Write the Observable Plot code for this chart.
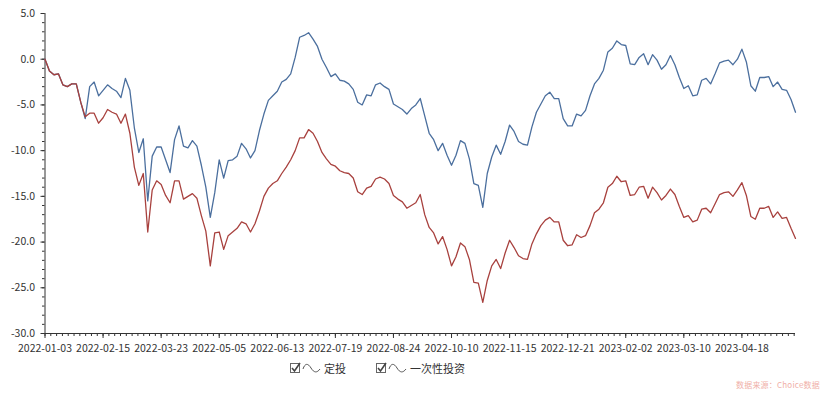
<!DOCTYPE html>
<html><head><meta charset="utf-8">
<script src="https://cdn.jsdelivr.net/npm/d3@7"></script>
<script src="https://cdn.jsdelivr.net/npm/@observablehq/plot@0.6"></script>
<style>
body{margin:0;background:#fff;font-family:"Noto Sans CJK SC","Microsoft YaHei",sans-serif;}
#wrap{position:relative;width:830px;height:395px;overflow:hidden;}
#legend{position:absolute;top:359px;left:0;width:830px;height:18px;font-size:11px;color:#333;}
.item{position:absolute;top:0;display:flex;align-items:center;height:18px;}
.item svg{display:block}
#src{position:absolute;left:736px;top:379px;font-size:8px;color:#f0b0a8;letter-spacing:0.2px;}
</style></head><body>
<div id="wrap"><div id="chart"></div>
<div id="legend"></div>
<div id="src">数据来源：Choice数据</div>
</div>
<script>
const seriesNames = ["定投", "一次性投资"];
const seriesColors = ["#4b6f9e", "#a8413e"];
const step = 2; // trading days between samples
const dingtou = [
0, -1.3, -1.7, -1.6, -2.8, -3.0, -2.7, -2.7, -4.7, -6.5,
-3.0, -2.5, -4.0, -3.4, -2.8, -3.2, -3.5, -4.2, -2.1, -3.4,
-7.5, -10.2, -8.7, -15.5, -10.6, -9.6, -9.6, -11.0, -12.4, -8.8,
-7.3, -9.5, -9.7, -8.9, -9.5, -11.6, -14.0, -17.3, -14.6, -11.0,
-13.0, -11.1, -11.0, -10.6, -9.2, -9.8, -10.8, -10.0, -7.8, -6.0,
-4.5, -4.0, -3.5, -2.5, -2.2, -1.6, 0.2, 2.4, 2.6, 2.9,
2.2, 1.4, 0.0, -0.9, -1.9, -1.6, -2.3, -2.4, -2.7, -3.3,
-4.7, -5.0, -3.9, -4.0, -2.8, -2.6, -3.0, -3.3, -4.9, -5.2,
-5.5, -6.0, -5.4, -5.0, -4.3, -6.2, -8.1, -8.8, -10.0, -9.2,
-10.5, -11.6, -10.5, -8.9, -9.2, -10.9, -13.6, -13.8, -16.2, -12.5,
-10.7, -9.4, -10.4, -9.0, -7.2, -7.9, -9.0, -9.3, -9.4, -7.4,
-5.8, -4.9, -4.0, -3.6, -4.3, -4.3, -6.5, -7.3, -7.3, -6.0,
-6.2, -5.6, -4.0, -2.7, -2.1, -1.2, 0.8, 1.2, 2.0, 1.6,
1.5, -0.5, -0.6, 0.2, 0.6, -0.6, 0.5, -0.1, -1.1, -0.6,
0.4, -0.6, -2.0, -3.2, -2.9, -4.0, -3.9, -2.3, -2.1, -2.7,
-1.6, -0.4, -0.2, -0.1, -0.6, 0.0, 1.1, -0.3, -2.9, -3.5,
-2.0, -2.0, -1.9, -3.0, -2.5, -3.3, -3.4, -4.4, -5.8
];
const yicixing = [
0, -1.3, -1.7, -1.6, -2.8, -3.0, -2.7, -2.7, -4.7, -6.3,
-5.9, -5.9, -7.0, -6.4, -5.5, -5.8, -6.0, -7.0, -6.0, -8.1,
-11.8, -13.8, -12.5, -18.9, -14.3, -13.3, -13.7, -14.9, -15.7, -13.3,
-13.3, -15.3, -15.0, -14.7, -15.2, -17.1, -18.8, -22.6, -19.0, -18.9,
-20.8, -19.3, -18.9, -18.5, -17.8, -18.0, -18.9, -18.0, -16.6, -15.0,
-14.1, -13.6, -13.3, -12.5, -11.8, -11.0, -10.0, -8.6, -8.6, -7.7,
-8.1, -9.0, -10.2, -10.9, -11.5, -11.7, -12.2, -12.4, -12.5, -13.0,
-14.5, -14.8, -14.1, -13.9, -13.1, -12.9, -13.1, -13.6, -14.9, -15.3,
-15.6, -16.3, -16.0, -15.7, -14.8, -17.0, -18.4, -19.0, -20.2, -19.4,
-20.8, -22.6, -21.6, -20.1, -20.5, -21.9, -24.4, -24.5, -26.6, -24.2,
-22.6, -21.9, -22.9, -21.2, -19.8, -20.6, -21.5, -21.8, -21.9, -20.2,
-19.1, -18.2, -17.6, -17.3, -17.8, -17.8, -19.8, -20.4, -20.3, -19.2,
-19.5, -19.3, -18.2, -16.8, -16.4, -15.7, -14.0, -13.6, -12.8, -13.4,
-13.3, -14.9, -14.8, -14.0, -13.9, -15.2, -14.0, -14.6, -15.4, -14.9,
-14.2, -14.8, -16.1, -17.3, -17.1, -17.8, -17.6, -16.4, -16.3, -16.8,
-15.8, -14.8, -14.6, -14.5, -15.0, -14.3, -13.5, -14.9, -17.2, -17.5,
-16.3, -16.3, -16.1, -17.3, -16.7, -17.4, -17.3, -18.5, -19.6
];
const tickLabels = ["2022-01-03","2022-02-15","2022-03-23","2022-05-05","2022-06-13","2022-07-19","2022-08-24","2022-10-10","2022-11-15","2022-12-21","2023-02-02","2023-03-10","2023-04-18"];
const labelEvery = 26;
const lastDay = 336;
const yTicks = [5, 0, -5, -10, -15, -20, -25, -30];
const yDomain = [-30, 5];

const axisColor = "#333";
const rows = [];
[dingtou, yicixing].forEach((arr, s) => arr.forEach((v, i) => rows.push({day: i * step, v, s: seriesNames[s]})));
const xMajor = tickLabels.map((_, j) => j * labelEvery);
const xMinor = d3.range(0, lastDay + 0.01, labelEvery / 10);
const yMinor = d3.range(yDomain[0], yDomain[1] + 0.01, 1);

const chart = Plot.plot({
  width: 830, height: 358,
  marginLeft: 44.5, marginRight: 35, marginTop: 13, marginBottom: 25,
  style: {fontFamily: '"Noto Sans CJK SC","Microsoft YaHei",sans-serif', fontSize: "10.5px", color: axisColor, background: "#fff"},
  x: {domain: [0, lastDay], axis: null},
  y: {domain: yDomain, axis: null},
  color: {domain: seriesNames, range: seriesColors},
  marks: [
    Plot.axisY(yMinor, {tickSize: 2.5, tickFormat: () => "", stroke: axisColor, label: null}),
    Plot.axisY(yTicks, {tickSize: 4, tickPadding: 6, tickFormat: d => d.toFixed(1), stroke: axisColor, fill: axisColor, fontSize: 10.5, label: null}),
    Plot.axisX(xMinor, {tickSize: 3, tickFormat: () => "", stroke: axisColor, label: null}),
    Plot.axisX(xMajor, {tickSize: 5, tickPadding: 6, tickFormat: d => tickLabels[d / labelEvery], stroke: axisColor, fill: axisColor, fontSize: 10.5, label: null}),
    Plot.ruleX([0], {stroke: axisColor}),
    Plot.ruleY([yDomain[0]], {stroke: axisColor}),
    Plot.line(rows.filter(r => r.s === seriesNames[0]), {x: "day", y: "v", stroke: "s", strokeWidth: 1.3}),
    Plot.line(rows.filter(r => r.s === seriesNames[1]), {x: "day", y: "v", stroke: "s", strokeWidth: 1.3})
  ]
});
document.getElementById("chart").appendChild(chart);

// legend
const legend = document.getElementById("legend");
const legendX = [289, 375];
seriesNames.forEach((name, i) => {
  const it = document.createElement("div");
  it.className = "item";
  it.style.left = legendX[i] + "px";
  it.innerHTML = `<svg width="34" height="14" viewBox="0 0 34 14">
    <rect x="1.5" y="2.5" width="9" height="9" fill="#fff" stroke="#666" stroke-width="1"/>
    <path d="M3 7 L5.5 10 L11 2" fill="none" stroke="#444" stroke-width="1.6"/>
    <path d="M14 8 C16 2,19 2,22 7 S28 12,31 8" fill="none" stroke="#555" stroke-width="1"/>
  </svg><span style="margin-left:1px">${name}</span>`;
  legend.appendChild(it);
});
</script>
</body></html>
